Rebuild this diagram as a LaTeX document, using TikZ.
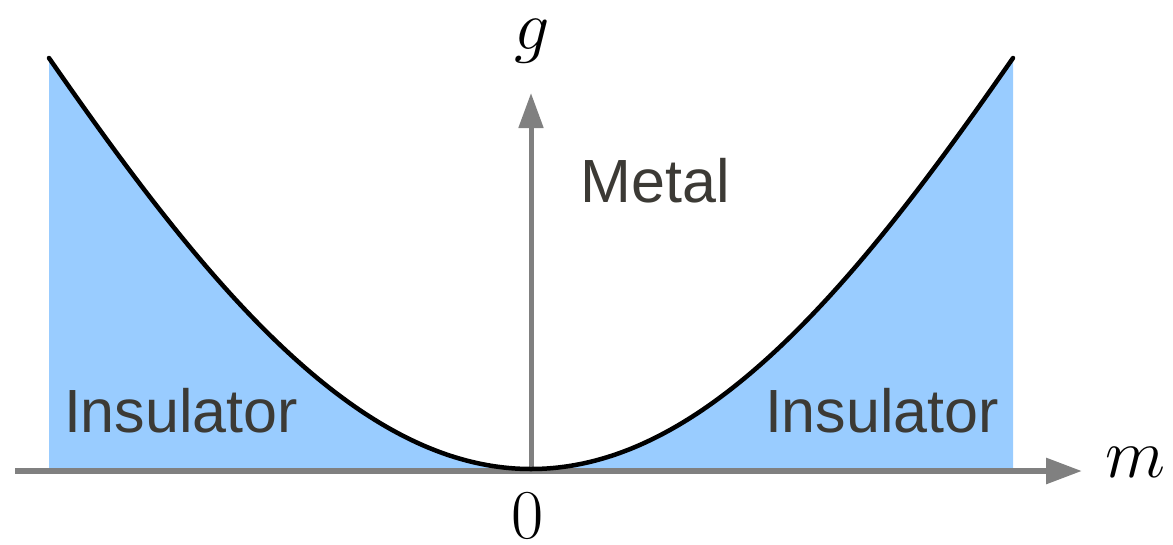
\documentclass[tikz,border=0pt]{standalone}
\usepackage{fix-cm}
\usepackage{fontspec}
\newfontfamily\labelfont{Liberation Sans}
\usetikzlibrary{arrows.meta}
\definecolor{insblue}{HTML}{99CCFF}
\definecolor{axisgray}{HTML}{808080}
\definecolor{txtgray}{HTML}{3C3A35}
\tikzset{
  region/.style={fill=insblue, draw=none},
  axisline/.style={draw=axisgray, line width=#1},
  boundary/.style={draw=black, line width=4.5pt, line cap=round, line join=round},
  phaselabel/.style={font=\labelfont\fontsize{61}{61}\selectfont, text=txtgray, inner sep=0pt, anchor=base},
  mathlabel/.style={font=\fontsize{70}{70}\selectfont, inner sep=0pt}
}
\begin{document}
\begin{tikzpicture}[x=1pt,y=-1pt]
\useasboundingbox (0,0) rectangle (1173,544);
% insulator regions
\fill[region] (49,471) -- plot[domain=-482:0, samples=120] ({531+\x},{469-411*(1.156*(\x/482)^2-0.156*(\x/482)^4)}) -- (531,471) -- cycle;
\fill[region] (1013,471) -- plot[domain=482:0, samples=120] ({531+\x},{469-411*(1.156*(\x/482)^2-0.156*(\x/482)^4)}) -- (531,471) -- cycle;
% axes
\coordinate (xstart) at (15,471);
\coordinate (xend) at (1082,471);
\coordinate (origin) at (531,471);
\coordinate (yend) at (531,93);
\draw[axisline=6pt, -{Triangle[length=36pt,width=25pt]}] (xstart) -- (xend);
\draw[axisline=5pt, -{Triangle[length=35pt,width=24pt]}] (origin) -- (yend);
% boundary curve
\draw[boundary] plot[domain=-482:482, samples=241] ({531+\x},{469-411*(1.156*(\x/482)^2-0.156*(\x/482)^4)});
% labels
\node[mathlabel] (glabel) at (532,41) {$g$};
\node[mathlabel] (mlabel) at (1135,462) {$m$};
\node[mathlabel] (zero) at (528,516) {$0$};
\node[phaselabel] (metal) at (655,202) {Metal};
\node[phaselabel] (insL) at (181,432) {Insulator};
\node[phaselabel] (insR) at (882,432) {Insulator};
\end{tikzpicture}
\end{document}
